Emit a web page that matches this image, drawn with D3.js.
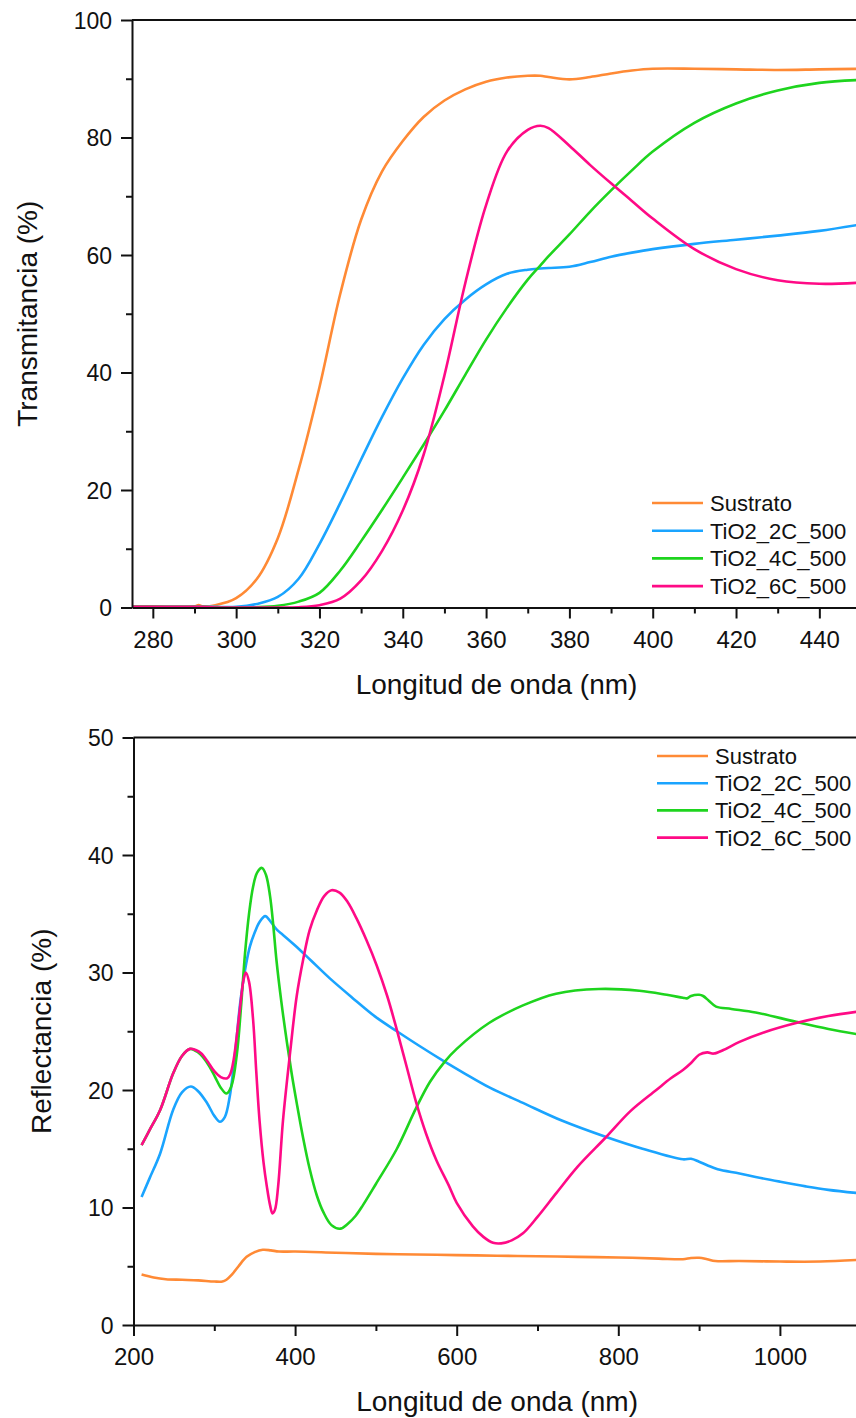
<!DOCTYPE html>
<html>
<head>
<meta charset="utf-8">
<script src="https://cdn.jsdelivr.net/npm/d3@7/dist/d3.min.js"></script>
<style>
  body { margin: 0; background: #fff; }
  svg { display: block; font-family: "Liberation Sans", Arial, sans-serif; }
</style>
</head>
<body>
<svg id="chart" width="856" height="1418"></svg>
<script>
// series names + colours
var seriesNames = ["Sustrato", "TiO2_2C_500", "TiO2_4C_500", "TiO2_6C_500"];
var seriesColors = ["#FF8A35", "#1AA4FF", "#1ED41E", "#FF0A86"];

// ---- top panel: transmitancia ----
var transWl = [275, 280, 285, 290, 291, 292, 295, 300, 305, 310, 315, 320, 325, 330, 335, 340, 345, 350,
               355, 360, 365, 370, 373, 375, 380, 385, 390, 395, 400, 410, 420, 430, 440, 450];
var transSustrato = [0.2, 0.2, 0.1, 0.2, 0.4, 0.2, 0.4, 1.6, 4.9, 11.8, 23.5, 37.5, 53.4, 66.0, 74.2, 79.4, 83.5, 86.3,
                     88.2, 89.5, 90.2, 90.5, 90.5, 90.3, 89.9, 90.3, 90.9, 91.4, 91.7, 91.7, 91.6, 91.5, 91.6, 91.7];
var trans2C = [0.1, 0.1, 0.1, 0.1, 0.1, 0.1, 0.1, 0.1, 0.6, 1.8, 4.9, 10.8, 17.8, 25.2, 32.4, 39.0, 44.7, 49.1,
               52.4, 55.0, 56.8, 57.5, 57.7, 57.8, 58.0, 58.8, 59.7, 60.4, 61.0, 61.9, 62.6, 63.3, 64.1, 65.2];
var trans4C = [0.1, 0.1, 0.1, 0.1, 0.1, 0.1, 0.0, 0.0, 0.05, 0.3, 1.0, 2.5, 6.3, 11.3, 16.6, 22.1, 27.7, 33.5,
               39.6, 45.6, 51.0, 55.8, 58.2, 59.8, 63.5, 67.4, 71.0, 74.4, 77.6, 82.5, 85.8, 88.0, 89.3, 89.8];
var trans6C = [0.1, 0.1, 0.1, 0.1, 0.1, 0.1, 0.0, 0.0, 0.0, 0.0, 0.05, 0.4, 1.5, 4.6, 9.6, 16.5, 26.0, 39.5,
               55.2, 68.5, 77.6, 81.3, 82.0, 81.6, 78.6, 75.3, 72.2, 69.2, 66.2, 61.0, 57.6, 55.7, 55.1, 55.3];

var transXTicks = [280, 300, 320, 340, 360, 380, 400, 420, 440];
var transXMinor = [290, 310, 330, 350, 370, 390, 410, 430];
var transYTicks = [0, 20, 40, 60, 80, 100];
var transYMinor = [10, 30, 50, 70, 90];

// ---- bottom panel: reflectancia ----
var reflWlSustrato = [210, 225, 240, 260, 280, 300, 310, 315, 322, 330, 340, 350, 360, 370, 380, 400, 450, 500,
                      550, 600, 650, 700, 750, 800, 850, 880, 890, 900, 910, 920, 950, 1000, 1050, 1100];
var reflSustrato = [4.3, 4.05, 3.9, 3.85, 3.8, 3.7, 3.7, 3.85, 4.3, 5.0, 5.8, 6.2, 6.4, 6.35, 6.25, 6.25, 6.15, 6.05,
                    6.0, 5.95, 5.9, 5.85, 5.8, 5.75, 5.65, 5.6, 5.7, 5.72, 5.6, 5.45, 5.45, 5.4, 5.4, 5.55];

var reflWl2C = [210, 220, 233, 249, 260, 271, 280, 291, 300, 307, 313, 319, 326, 332, 338, 344, 350, 356, 363,
                370, 378, 385, 400, 420, 443, 470, 500, 526, 555, 583, 610, 641, 682, 730, 785, 830, 880, 890,
                900, 910, 923, 950, 970, 1000, 1032, 1060, 1100];
var refl2C = [10.9, 12.5, 14.6, 18.3, 19.8, 20.3, 19.9, 18.9, 17.8, 17.3, 17.7, 19.4, 23.3, 27.4, 30.2, 32.2, 33.4, 34.3, 34.8,
              34.3, 33.6, 33.2, 32.3, 31.0, 29.5, 27.9, 26.2, 25.0, 23.7, 22.5, 21.4, 20.2, 18.9, 17.4, 16.0, 15.0, 14.1, 14.15,
              13.9, 13.6, 13.25, 12.9, 12.6, 12.2, 11.8, 11.5, 11.2];

var reflWl4C = [210, 220, 233, 249, 260, 270, 280, 286, 294, 301, 308, 315, 321, 328, 333, 338, 343, 348, 353, 359,
                364, 369, 373, 377, 383, 390, 396, 402, 410, 418, 427, 435, 445, 456, 465, 475, 484, 500, 526, 550,
                567, 585, 600, 640, 682, 723, 776, 826, 860, 880, 885, 890, 900, 905, 912, 921, 940, 970, 1020, 1060, 1100];
var refl4C = [15.3, 16.6, 18.3, 21.4, 22.9, 23.5, 23.2, 22.8, 22.0, 21.1, 20.2, 19.7, 20.3, 23.1, 27.0, 31.6, 35.0, 37.3, 38.5, 38.9,
              38.3, 36.5, 34.0, 31.0, 27.5, 24.0, 21.3, 18.9, 15.9, 13.3, 11.0, 9.6, 8.5, 8.2, 8.6, 9.3, 10.2, 12.0, 15.0, 18.5,
              20.7, 22.4, 23.5, 25.7, 27.2, 28.2, 28.6, 28.45, 28.1, 27.85, 27.8, 28.0, 28.1, 28.0, 27.6, 27.1, 26.9, 26.6, 25.8, 25.2, 24.7];

var reflWl6C = [210, 220, 233, 249, 260, 270, 277, 284, 292, 300, 308, 316, 320, 324, 328, 332, 336, 339, 343, 348,
                352, 356, 361, 365, 369, 372, 375, 379, 385, 394, 402, 410, 418, 427, 436, 445, 455, 465, 476, 488,
                501, 514, 526, 538, 550, 562, 575, 590, 600, 620, 633, 645, 655, 668, 682, 700, 723, 750, 785, 815,
                847, 865, 880, 890, 900, 910, 918, 930, 950, 980, 1020, 1060, 1100];
var refl6C = [15.3, 16.6, 18.3, 21.4, 22.9, 23.5, 23.4, 23.1, 22.4, 21.6, 21.1, 21.0, 21.4, 22.6, 24.7, 27.1, 29.3, 30.0, 29.2, 26.0,
              21.5, 17.4, 13.8, 11.8, 10.2, 9.5, 9.8, 11.8, 17.4, 23.3, 28.0, 31.1, 33.6, 35.3, 36.5, 37.0, 36.8, 36.0, 34.6, 32.8,
              30.6, 28.0, 25.1, 22.0, 18.9, 16.3, 14.0, 11.9, 10.4, 8.4, 7.5, 7.0, 6.95, 7.2, 7.8, 9.2, 11.2, 13.5, 16.0, 18.2,
              20.0, 21.0, 21.7, 22.3, 23.0, 23.2, 23.1, 23.4, 24.1, 24.9, 25.7, 26.3, 26.7];

var reflXTicks = [200, 400, 600, 800, 1000];
var reflXMinor = [300, 500, 700, 900];
var reflYTicks = [0, 10, 20, 30, 40, 50];
var reflYMinor = [5, 15, 25, 35, 45];

var svg = d3.select("#chart");

function drawPanel(opt) {
    var x = d3.scaleLinear().domain(opt.xDomain).range([opt.left, opt.right]);
    var y = d3.scaleLinear().domain(opt.yDomain).range([opt.bottom, opt.top]);
    var g = svg.append("g");

    // clip to plot area
    var clipId = "clip" + opt.name;
    g.append("clipPath").attr("id", clipId)
      .append("rect")
      .attr("x", opt.left).attr("y", opt.top)
      .attr("width", opt.right - opt.left).attr("height", opt.bottom - opt.top);

    var line = d3.line()
        .x(function(d) { return x(d[0]); })
        .y(function(d) { return y(d[1]); })
        .curve(d3.curveCatmullRom.alpha(0.5));

    opt.series.forEach(function(s, i) {
        var pts = s.wl.map(function(w, k) { return [w, s.val[k]]; });
        g.append("path")
          .datum(pts)
          .attr("clip-path", "url(#" + clipId + ")")
          .attr("d", line)
          .attr("fill", "none")
          .attr("stroke", seriesColors[i])
          .attr("stroke-width", 2.6)
          .attr("stroke-linejoin", "round");
    });

    // x axis
    var xAxis = g.append("g")
        .attr("transform", "translate(0," + opt.bottom + ")")
        .call(d3.axisBottom(x).tickValues(opt.xTicks).tickSize(11).tickSizeOuter(0).tickFormat(d3.format("d")));
    xAxis.selectAll("text").attr("y", 40).attr("dy", 0)
        .style("font-size", "24px").attr("fill", "#111");
    g.append("g")
        .attr("transform", "translate(0," + opt.bottom + ")")
        .call(d3.axisBottom(x).tickValues(opt.xMinor).tickSize(6).tickSizeOuter(0).tickFormat(""))
        .select(".domain").remove();

    // y axis
    var yAxis = g.append("g")
        .attr("transform", "translate(" + opt.left + ",0)")
        .call(d3.axisLeft(y).tickValues(opt.yTicks).tickSize(11).tickSizeOuter(0).tickFormat(d3.format("d")));
    yAxis.selectAll("text").attr("x", -20).attr("dy", "0.36em")
        .style("font-size", "23px").attr("fill", "#111");
    g.append("g")
        .attr("transform", "translate(" + opt.left + ",0)")
        .call(d3.axisLeft(y).tickValues(opt.yMinor).tickSize(6).tickSizeOuter(0).tickFormat(""))
        .select(".domain").remove();

    g.selectAll(".domain, .tick line").attr("stroke", "#111").attr("stroke-width", 2);

    // top frame
    g.append("line")
      .attr("x1", opt.left).attr("x2", opt.right)
      .attr("y1", opt.top).attr("y2", opt.top)
      .attr("stroke", "#111").attr("stroke-width", 2);

    // titles
    g.append("text")
      .attr("x", (opt.left + opt.right) / 2)
      .attr("y", opt.bottom + 86)
      .attr("text-anchor", "middle")
      .style("font-size", "28px")
      .attr("fill", "#111")
      .text("Longitud de onda (nm)");
    g.append("text")
      .attr("transform", "translate(" + opt.yTitleX + "," + ((opt.top + opt.bottom) / 2) + ") rotate(-90)")
      .attr("text-anchor", "middle")
      .style("font-size", "28px")
      .attr("fill", "#111")
      .text(opt.yTitle);

    // legend
    seriesNames.forEach(function(name, i) {
        var ly = opt.legendY + i * opt.legendStep;
        g.append("line")
          .attr("x1", opt.legendX).attr("x2", opt.legendX + 51)
          .attr("y1", ly).attr("y2", ly)
          .attr("stroke", seriesColors[i]).attr("stroke-width", 2.6);
        g.append("text")
          .attr("x", opt.legendX + 58)
          .attr("y", ly + 8)
          .style("font-size", "22px")
          .attr("fill", "#111")
          .text(name);
    });
}

drawPanel({
    name: "T",
    xDomain: [275, 450], yDomain: [0, 100],
    left: 132, right: 861, top: 20, bottom: 607.5,
    xTicks: transXTicks, xMinor: transXMinor, yTicks: transYTicks, yMinor: transYMinor,
    yTitle: "Transmitancia (%)", yTitleX: 36.5,
    legendX: 652, legendY: 503, legendStep: 27.7,
    series: [
        { wl: transWl, val: transSustrato },
        { wl: transWl, val: trans2C },
        { wl: transWl, val: trans4C },
        { wl: transWl, val: trans6C }
    ]
});

drawPanel({
    name: "R",
    xDomain: [200, 1100], yDomain: [0, 50],
    left: 133.5, right: 860.7, top: 737.5, bottom: 1325,
    xTicks: reflXTicks, xMinor: reflXMinor, yTicks: reflYTicks, yMinor: reflYMinor,
    yTitle: "Reflectancia (%)", yTitleX: 50.5,
    legendX: 657, legendY: 756, legendStep: 27.2,
    series: [
        { wl: reflWlSustrato, val: reflSustrato },
        { wl: reflWl2C, val: refl2C },
        { wl: reflWl4C, val: refl4C },
        { wl: reflWl6C, val: refl6C }
    ]
});
</script>
</body>
</html>
